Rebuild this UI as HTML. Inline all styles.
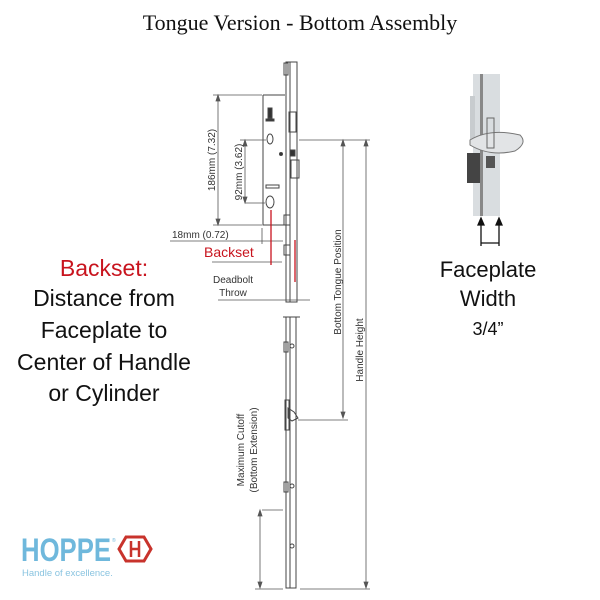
<!DOCTYPE html>
<html><head><meta charset="utf-8"><style>
body{margin:0;background:#fff;width:600px;height:600px;overflow:hidden}
svg{display:block}
</style></head><body>
<svg width="600" height="600" viewBox="0 0 600 600" xmlns="http://www.w3.org/2000/svg">
<text x="300" y="30" text-anchor="middle" font-family="Liberation Serif, serif" font-size="22" fill="#111">Tongue Version - Bottom Assembly</text>

<g font-family="Liberation Sans, sans-serif" font-size="23" text-anchor="middle" fill="#111">
<text x="104" y="276" fill="#c8141e">Backset:</text>
<text x="104" y="306">Distance from</text>
<text x="104" y="338">Faceplate to</text>
<text x="104" y="370">Center of Handle</text>
<text x="104" y="401">or Cylinder</text>
<text x="488" y="277" font-size="22">Faceplate</text>
<text x="488" y="306" font-size="22">Width</text>
<text x="488" y="335" font-size="18">3/4”</text>
</g>

<!-- lock drawing -->
<g stroke="#444" stroke-width="1" fill="none">
<rect x="286" y="62" width="11" height="240"/>
<line x1="290" y1="62" x2="290" y2="302"/>
<rect x="284" y="63" width="4" height="12"/>
<path d="M263 95 H285 M263 95 V225 H285"/>
<rect x="289" y="112" width="7" height="20"/>
<rect x="291" y="160" width="8" height="18" />
<rect x="290" y="150" width="5" height="6" fill="#333"/>
<ellipse cx="270" cy="139" rx="3" ry="5"/>
<ellipse cx="270" cy="202" rx="4" ry="6"/>
<rect x="266" y="185" width="13" height="3"/>
<rect x="268" y="108" width="4" height="10" fill="#333"/>
<rect x="266" y="119" width="8" height="2" fill="#333"/>
<circle cx="281" cy="154" r="1.5" fill="#333"/>
<rect x="284" y="245" width="6" height="10"/>
<rect x="284" y="215" width="6" height="10"/>
<rect x="286" y="317" width="10" height="271"/>
<line x1="290" y1="317" x2="290" y2="588"/>
<line x1="283" y1="317" x2="300" y2="317"/>
<rect x="284" y="342" width="4" height="10"/>
<rect x="284" y="482" width="4" height="10"/>
<path d="M288 408 l6 4 l4 6 l-6 3 l-4 -3 z"/>
<rect x="285" y="400" width="4" height="30"/>
<circle cx="292" cy="346" r="2"/><circle cx="292" cy="486" r="2"/><circle cx="292" cy="546" r="2"/>
</g>

<g stroke="#555" stroke-width="0.8" fill="#555">
<line x1="213" y1="95" x2="262" y2="95"/>
<line x1="213" y1="225" x2="262" y2="225"/>
<line x1="218" y1="95" x2="218" y2="225"/>
<line x1="240" y1="140" x2="266" y2="140"/>
<line x1="245" y1="203" x2="265" y2="203"/>
<line x1="245" y1="140" x2="245" y2="203"/>
<line x1="299" y1="140" x2="370" y2="140"/>
<line x1="343" y1="140" x2="343" y2="418"/>
<line x1="366" y1="140" x2="366" y2="588"/>
<line x1="298" y1="420" x2="348" y2="420"/>
<line x1="300" y1="589" x2="370" y2="589"/>
<line x1="170" y1="241" x2="283" y2="241"/>
<line x1="262" y1="228" x2="262" y2="244"/>
<line x1="212" y1="262" x2="282" y2="262"/>
<line x1="218" y1="300" x2="310" y2="300"/>
<line x1="262" y1="510" x2="283" y2="510"/>
<line x1="260" y1="510" x2="260" y2="588"/>
<line x1="255" y1="589" x2="283" y2="589"/>
<path d="M343 140 l-2 6 h4z M343 418 l-2 -6 h4z M366 140 l-2 6 h4z M366 588 l-2 -6 h4z M218 95 l-2 6 h4z M218 225 l-2 -6 h4z M245 140 l-2 6 h4z M245 203 l-2 -6 h4z M260 510 l-2 6 h4z M260 588 l-2 -6 h4z"/>
</g>
<g stroke="#c8141e" stroke-width="1.3">
<line x1="271" y1="210" x2="271" y2="265"/>
<line x1="295" y1="240" x2="295" y2="282"/>
</g>
<g font-family="Liberation Sans, sans-serif" font-size="10" fill="#333">
<text transform="translate(215,160) rotate(-90)" text-anchor="middle">186mm (7.32)</text>
<text transform="translate(242,172) rotate(-90)" text-anchor="middle">92mm (3.62)</text>
<text x="172" y="238">18mm (0.72)</text>
<text x="233" y="283" text-anchor="middle">Deadbolt</text>
<text x="233" y="296" text-anchor="middle">Throw</text>
<text transform="translate(341,282) rotate(-90)" text-anchor="middle">Bottom Tongue Position</text>
<text transform="translate(363,350) rotate(-90)" text-anchor="middle">Handle Height</text>
<text transform="translate(244,450) rotate(-90)" text-anchor="middle">Maximum Cutoff</text>
<text transform="translate(257,450) rotate(-90)" text-anchor="middle">(Bottom Extension)</text>
</g>
<text x="204" y="257" font-family="Liberation Sans, sans-serif" font-size="14" fill="#c8141e">Backset</text>

<rect x="473" y="74" width="27" height="142" fill="#d9dde0"/>
<rect x="480" y="74" width="3" height="142" fill="#888"/>
<rect x="470" y="96" width="5" height="50" fill="#c8cccf"/>
<path d="M470 140 q20 -12 50 -5 q8 8 -5 16 q-25 6 -45 -6z" fill="#e2e4e6" stroke="#777"/>
<rect x="487" y="118" width="7" height="30" fill="none" stroke="#666"/>
<rect x="467" y="153" width="13" height="30" fill="#444"/>
<rect x="486" y="156" width="9" height="12" fill="#555"/>
<g stroke="#111" stroke-width="1.3" fill="#111">
<line x1="481" y1="222" x2="481" y2="246"/>
<line x1="499" y1="222" x2="499" y2="246"/>
<line x1="481" y1="243" x2="499" y2="243"/>
<path d="M481 218 l-3 7 h6z M499 218 l-3 7 h6z"/>
</g>

<text x="21" y="561" font-family="Liberation Sans, sans-serif" font-size="32" font-weight="bold" fill="#6fb8dc" textLength="90" lengthAdjust="spacingAndGlyphs">HOPPE</text>
<text x="112" y="542" font-family="Liberation Sans, sans-serif" font-size="5" fill="#6fb8dc">®</text>
<path d="M126 537 h18 l7 12 l-7 12 h-18 l-7 -12z" fill="none" stroke="#c8332c" stroke-width="3"/>
<path d="M131 541 v16 M139 541 v16 M131 549 h8" stroke="#c8332c" stroke-width="2.5"/>
<text x="22" y="576" font-family="Liberation Sans, sans-serif" font-size="9.5" fill="#8ac4e0">Handle of excellence.</text>
</svg>
</body></html>
